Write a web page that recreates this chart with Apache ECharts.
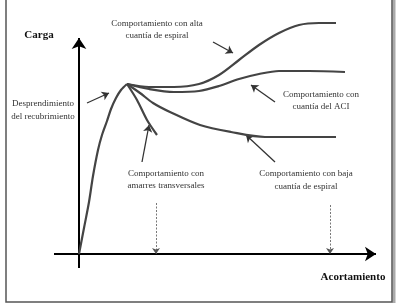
<!DOCTYPE html>
<html lang="es">
<head>
    <meta charset="UTF-8">
    <title>Carga - Acortamiento</title>
    <style>
        body{ margin:0; background:#fff; }
        .box{ width:398px; height:303px; }
    </style>
    <script src="https://cdn.jsdelivr.net/npm/echarts@6/dist/echarts.min.js"></script>
</head>
<body>
    <div class="box" id="chart"></div>
    <script>
        // curvas (x = acortamiento, y = carga), en unidades del dibujo
        var rama = [[0,0],[5,26],[10,52],[14,78],[19,104],[23,119],[28,133],[32,145],[37,156],[42,164],[48,170]];
        var altaEspiral = [[48,170],[70,167],[95,167],[120,170],[140,179],[160,194],[180,209],[200,221],[220,229],[240,231],[257,231]];
        var cuantiaACI = [[48,170],[70,165],[95,162],[120,163],[140,168],[160,175],[180,180],[200,183],[230,183],[266,182]];
        var bajaEspiral = [[48,170],[61,161],[74,151],[91,142],[121,129],[152,122],[186,117],[220,117],[257,117]];
        var amarres = [[48,170],[58,154],[68,134],[78,119]];

        // flechas de anotación [desde, hasta]
        var flechas = [
            [[8,151],[30,161]],
            [[63,92],[70,129]],
            [[134,212],[154,201]],
            [[196,152],[172,169]],
            [[196,92],[167,119]]
        ];
        var flechasPunteadas = [
            [[77,51],[77,0]],
            [[251,49],[251,0]]
        ];
        var ejes = [
            [[-25,0],[297,0]],
            [[0,-14],[0,216]]
        ];

        var col = '#444';
        var serif = '"Liberation Serif", "DejaVu Serif", serif';

        function curva(d){
            return {
                type:'line', data:d, smooth:0.3, symbol:'none',
                lineStyle:{ color:col, width:2.2 }, silent:true
            };
        }
        function toLines(arr){
            return arr.map(function(p){ return { coords:p }; });
        }

        var inst = echarts.init(document.getElementById('chart'));
        var opt = {
            animation:false,
            grid:{ left:0, right:0, top:0, bottom:0 },
            xAxis:{ type:'value', min:-79, max:319, show:false },
            yAxis:{ type:'value', min:-49, max:254, show:false },
            series:[
                curva(rama),
                curva(altaEspiral),
                curva(cuantiaACI),
                curva(bajaEspiral),
                curva(amarres),
                {
                    type:'lines', coordinateSystem:'cartesian2d',
                    symbol:['none','arrow'], symbolSize:11,
                    lineStyle:{ color:'#000', width:2, opacity:1 },
                    data:toLines(ejes)
                },
                {
                    type:'lines', coordinateSystem:'cartesian2d',
                    symbol:['none','arrow'], symbolSize:7,
                    lineStyle:{ color:'#333', width:1.3, opacity:1 },
                    data:toLines(flechas)
                },
                {
                    type:'lines', coordinateSystem:'cartesian2d',
                    symbol:['none','arrow'], symbolSize:6,
                    lineStyle:{ color:'#555', width:0.8, type:[2,1.5], opacity:1 },
                    data:toLines(flechasPunteadas)
                }
            ],
            graphic:[
                { type:'rect', shape:{ x:6, y:-4, width:386, height:306 },
                  style:{ fill:'none', stroke:'#555', lineWidth:1.5 }, z:100 },
                { type:'line', shape:{ x1:394, y1:0, x2:394, y2:303 },
                  style:{ stroke:'#aaa', lineWidth:3 }, z:99 },
                { type:'text', x:39, y:35, style:{ text:'Carga', font:'bold 11px '+serif, fill:'#111', align:'center', verticalAlign:'middle' } },
                { type:'text', x:353, y:277, style:{ text:'Acortamiento', font:'bold 11px '+serif, fill:'#111', align:'center', verticalAlign:'middle' } },
                { type:'text', x:157, y:30, style:{ text:'Comportamiento con alta\ncuantía de espiral', font:'9px '+serif, lineHeight:12, fill:'#333', align:'center', verticalAlign:'middle' } },
                { type:'text', x:321, y:101, style:{ text:'Comportamiento con\ncuantía del ACI', font:'9px '+serif, lineHeight:12, fill:'#333', align:'center', verticalAlign:'middle' } },
                { type:'text', x:43, y:110, style:{ text:'Desprendimiento\ndel recubrimiento', font:'9px '+serif, lineHeight:13, fill:'#333', align:'center', verticalAlign:'middle' } },
                { type:'text', x:166, y:180, style:{ text:'Comportamiento con\namarres transversales', font:'9px '+serif, lineHeight:12, fill:'#333', align:'center', verticalAlign:'middle' } },
                { type:'text', x:306, y:180, style:{ text:'Comportamiento con baja\ncuantía de espiral', font:'9px '+serif, lineHeight:13, fill:'#333', align:'center', verticalAlign:'middle' } }
            ]
        };
        inst.setOption(opt);
    </script>
</body>
</html>
